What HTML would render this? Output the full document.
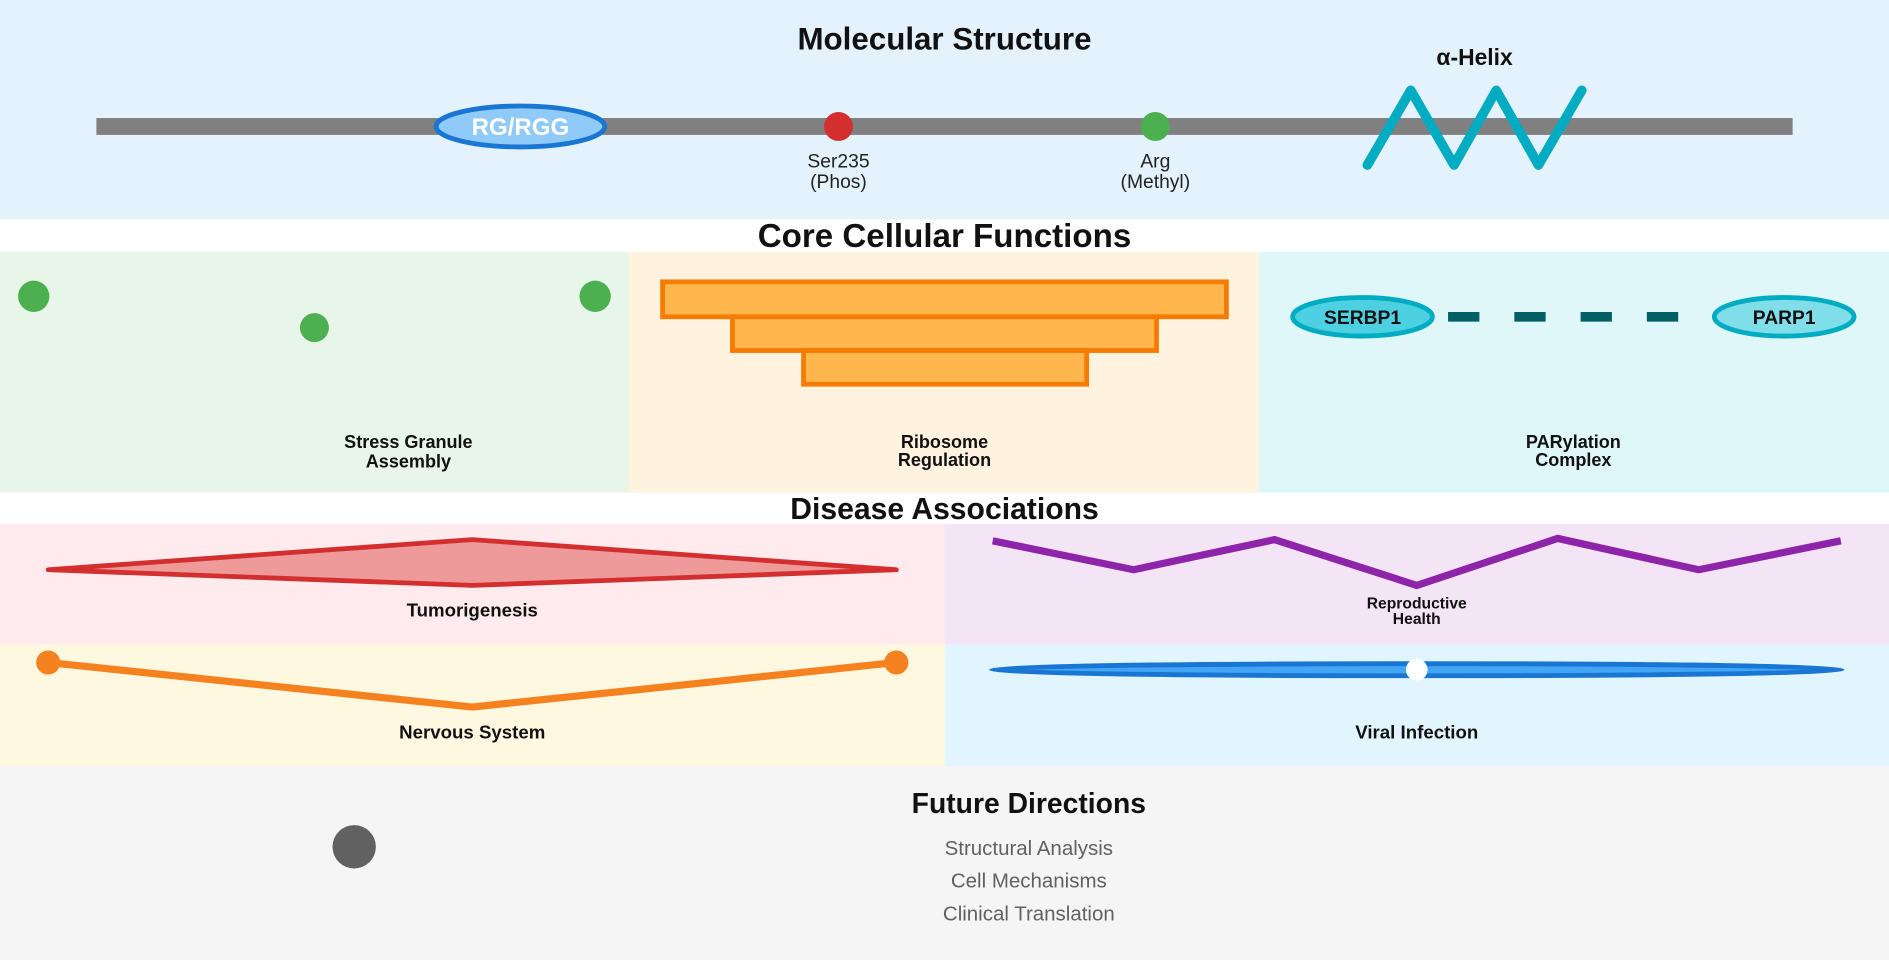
<!DOCTYPE html>
<html><head><meta charset="utf-8"><style>
html,body{margin:0;padding:0;background:#fff;}
svg{display:block;}
text{font-family:"Liberation Sans",Arial,sans-serif;}
</style></head><body>
<svg width="1889" height="960" viewBox="0 0 1568 797" preserveAspectRatio="none" xmlns="http://www.w3.org/2000/svg">
<rect x="0" y="0" width="1568" height="182" fill="#e3f2fd"/>
<text x="784" y="41" text-anchor="middle" font-size="26" font-weight="bold" fill="#111">Molecular Structure</text>
<rect x="80" y="98" width="1408" height="14" fill="#808080"/>
<ellipse cx="432" cy="105" rx="70" ry="17" fill="#90caf9" stroke="#1976d2" stroke-width="4"/>
<text x="432" y="112" text-anchor="middle" font-size="20" font-weight="bold" fill="#fff">RG/RGG</text>
<circle cx="696" cy="105" r="12" fill="#d32f2f"/>
<text x="696" y="139" text-anchor="middle" font-size="16" fill="#222">Ser235</text>
<text x="696" y="156" text-anchor="middle" font-size="16" fill="#222">(Phos)</text>
<circle cx="959" cy="105" r="12" fill="#4caf50"/>
<text x="959" y="139" text-anchor="middle" font-size="16" fill="#222">Arg</text>
<text x="959" y="156" text-anchor="middle" font-size="16" fill="#222">(Methyl)</text>
<text x="1224" y="54" text-anchor="middle" font-size="19" font-weight="bold" fill="#111">α-Helix</text>
<polyline points="1135,137 1171,75 1207,137 1242,75 1277,137 1313,75" fill="none" stroke="#00acc1" stroke-width="8" stroke-linecap="round" stroke-linejoin="round"/>

<text x="784" y="205" text-anchor="middle" font-size="27.5" font-weight="bold" fill="#111">Core Cellular Functions</text>
<rect x="0" y="209" width="522" height="200" fill="#e8f5e9"/>
<rect x="522" y="209" width="523" height="200" fill="#fff3e0"/>
<rect x="1045" y="209" width="523" height="200" fill="#e0f7fa"/>
<circle cx="28" cy="246" r="13" fill="#4caf50"/>
<circle cx="261" cy="272" r="12" fill="#4caf50"/>
<circle cx="494" cy="246" r="13" fill="#4caf50"/>
<text x="339" y="372" text-anchor="middle" font-size="15" font-weight="bold" fill="#111">Stress Granule</text>
<text x="339" y="388" text-anchor="middle" font-size="15" font-weight="bold" fill="#111">Assembly</text>
<g fill="#ffb74d" stroke="#f57c00" stroke-width="4">
<rect x="550" y="234" width="468" height="29"/>
<rect x="608" y="263" width="352" height="28"/>
<rect x="667" y="291" width="235" height="28"/>
</g>
<text x="784" y="372" text-anchor="middle" font-size="15" font-weight="bold" fill="#111">Ribosome</text>
<text x="784" y="387" text-anchor="middle" font-size="15" font-weight="bold" fill="#111">Regulation</text>
<line x1="1202" y1="263" x2="1395" y2="263" stroke="#006064" stroke-width="8" stroke-dasharray="26 29"/>
<ellipse cx="1131" cy="263" rx="58" ry="16" fill="#4dd0e1" stroke="#00acc1" stroke-width="4"/>
<text x="1131" y="269" text-anchor="middle" font-size="16" font-weight="bold" fill="#111">SERBP1</text>
<ellipse cx="1481" cy="263" rx="58" ry="16" fill="#80deea" stroke="#00acc1" stroke-width="4"/>
<text x="1481" y="269" text-anchor="middle" font-size="16" font-weight="bold" fill="#111">PARP1</text>
<text x="1306" y="372" text-anchor="middle" font-size="15" font-weight="bold" fill="#111">PARylation</text>
<text x="1306" y="387" text-anchor="middle" font-size="15" font-weight="bold" fill="#111">Complex</text>

<text x="784" y="431" text-anchor="middle" font-size="25" font-weight="bold" fill="#111">Disease Associations</text>
<rect x="0" y="435" width="784" height="100" fill="#ffebee"/>
<rect x="784" y="435" width="784" height="100" fill="#f3e5f5"/>
<rect x="0" y="535" width="784" height="101" fill="#fff8e1"/>
<rect x="784" y="535" width="784" height="101" fill="#e1f5fe"/>
<polygon points="40,473 392,448 744,473 392,486" fill="#ef9a9a" stroke="#d32f2f" stroke-width="4" stroke-linejoin="round"/>
<text x="392" y="512" text-anchor="middle" font-size="15.5" font-weight="bold" fill="#111">Tumorigenesis</text>
<polyline points="824,449 941,473 1058,448 1176,486 1293,447 1410,473 1528,449" fill="none" stroke="#8e24aa" stroke-width="6"/>
<text x="1176" y="505" text-anchor="middle" font-size="13" font-weight="bold" fill="#111">Reproductive</text>
<text x="1176" y="518" text-anchor="middle" font-size="13" font-weight="bold" fill="#111">Health</text>
<polyline points="40,550 392,587 744,550" fill="none" stroke="#f5821f" stroke-width="6"/>
<circle cx="40" cy="550" r="10" fill="#f5821f"/>
<circle cx="744" cy="550" r="10" fill="#f5821f"/>
<text x="392" y="613" text-anchor="middle" font-size="15.5" font-weight="bold" fill="#111">Nervous System</text>
<ellipse cx="1176" cy="556" rx="353" ry="5" fill="#42a5f5" stroke="#1976d2" stroke-width="4"/>
<circle cx="1176" cy="556" r="9" fill="#fff"/>
<text x="1176" y="613" text-anchor="middle" font-size="15.5" font-weight="bold" fill="#111">Viral Infection</text>

<rect x="0" y="636" width="1568" height="161" fill="#f5f5f5"/>
<text x="854" y="675" text-anchor="middle" font-size="23.5" font-weight="bold" fill="#111">Future Directions</text>
<circle cx="294" cy="703" r="18" fill="#616161"/>
<text x="854" y="710" text-anchor="middle" font-size="17" fill="#616161">Structural Analysis</text>
<text x="854" y="737" text-anchor="middle" font-size="17" fill="#616161">Cell Mechanisms</text>
<text x="854" y="764" text-anchor="middle" font-size="17" fill="#616161">Clinical Translation</text>
</svg>
</body></html>
